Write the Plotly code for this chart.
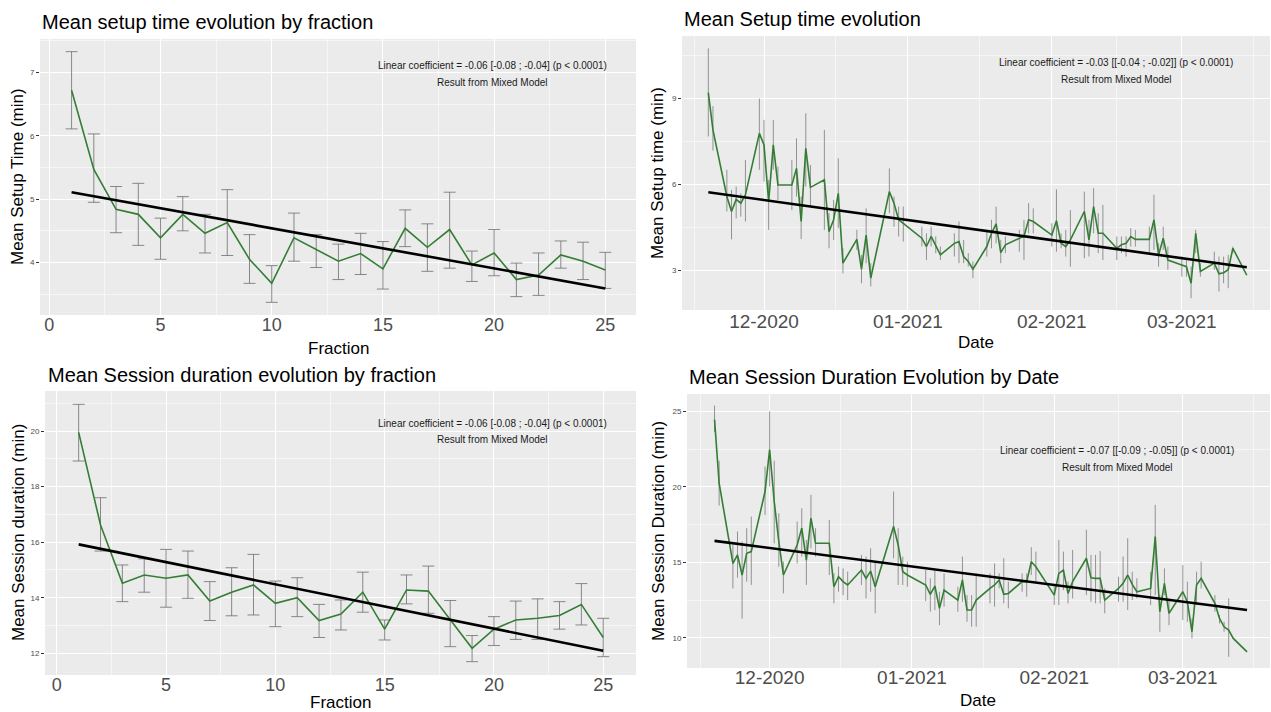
import plotly.graph_objects as go

W, H = 1271, 712
FONT = "Liberation Sans, Arial, sans-serif"

# ---------------- data ----------------
fraction = [1, 2, 3, 4, 5, 6, 7, 8, 9, 10, 11, 12, 13, 14, 15, 16, 17, 18, 19, 20, 21, 22, 23, 24, 25]

setup_frac_mean = [6.72, 5.47, 4.84, 4.76, 4.39, 4.76, 4.46, 4.63, 4.05, 3.67, 4.39, 4.20, 4.02,
                   4.14, 3.90, 4.54, 4.24, 4.52, 3.96, 4.15, 3.73, 3.80, 4.12, 4.02, 3.88]
setup_frac_upper = [7.33, 6.03, 5.20, 5.25, 4.70, 5.04, 4.76, 5.15, 4.44, 3.95, 4.78, 4.44, 4.29,
                    4.46, 4.33, 4.83, 4.61, 5.11, 4.18, 4.52, 3.99, 4.15, 4.34, 4.32, 4.16]
setup_frac_lower = [6.11, 4.95, 4.47, 4.27, 4.05, 4.50, 4.15, 4.11, 3.67, 3.37, 4.02, 3.92, 3.73,
                    3.81, 3.58, 4.25, 3.86, 3.91, 3.70, 3.79, 3.46, 3.48, 3.91, 3.73, 3.59]
setup_frac_trend = [5.11, 3.59]

session_frac_mean = [19.95, 16.62, 14.52, 14.82, 14.70, 14.82, 13.88, 14.20, 14.46, 13.80, 14.00, 13.18,
                     13.41, 14.20, 12.87, 14.28, 14.24, 13.20, 12.18, 12.87, 13.20, 13.26, 13.36, 13.76, 12.57]
session_frac_upper = [20.96, 17.60, 15.18, 15.40, 15.74, 15.68, 14.58, 15.08, 15.56, 14.60, 14.72, 13.76,
                      13.92, 14.92, 13.20, 14.82, 15.14, 13.90, 12.64, 13.32, 13.88, 13.96, 13.86, 14.51, 13.26]
session_frac_lower = [18.92, 15.68, 13.86, 14.20, 13.66, 13.98, 13.18, 13.35, 13.38, 12.96, 13.32, 12.57,
                      12.84, 13.48, 12.48, 13.78, 13.44, 12.24, 11.70, 12.28, 12.50, 12.50, 12.87, 13.02, 11.88]
session_frac_trend = [15.92, 12.09]

dates = [
    "2020-11-19", "2020-11-20", "2020-11-23", "2020-11-24", "2020-11-25", "2020-11-26", "2020-11-27",
    "2020-11-30", "2020-12-01", "2020-12-02", "2020-12-03", "2020-12-04", "2020-12-07", "2020-12-08",
    "2020-12-09", "2020-12-10", "2020-12-11", "2020-12-14", "2020-12-15", "2020-12-16", "2020-12-17",
    "2020-12-18", "2020-12-21", "2020-12-22", "2020-12-23", "2020-12-24", "2020-12-28", "2020-12-29",
    "2020-12-30", "2020-12-31", "2021-01-04", "2021-01-05", "2021-01-06", "2021-01-07", "2021-01-08",
    "2021-01-11", "2021-01-12", "2021-01-13", "2021-01-14", "2021-01-15", "2021-01-18", "2021-01-19",
    "2021-01-20", "2021-01-21", "2021-01-22", "2021-01-25", "2021-01-26", "2021-01-27", "2021-01-28",
    "2021-02-01", "2021-02-02", "2021-02-03", "2021-02-04", "2021-02-05", "2021-02-08", "2021-02-09",
    "2021-02-10", "2021-02-11", "2021-02-12", "2021-02-15", "2021-02-16", "2021-02-17", "2021-02-18",
    "2021-02-19", "2021-02-22", "2021-02-23", "2021-02-24", "2021-02-25", "2021-02-26", "2021-03-01",
    "2021-03-02", "2021-03-03", "2021-03-04", "2021-03-05", "2021-03-08", "2021-03-09", "2021-03-10",
    "2021-03-11", "2021-03-12", "2021-03-15",
]

setup_date_mean = [
    9.20, 7.90, 5.58, 5.06, 5.48, 5.35, 5.64, 7.78, 7.38, 5.40, 7.38, 5.98, 5.98, 6.56, 4.71, 7.26, 5.90,
    6.16, 4.36, 4.77, 5.69, 3.26, 4.09, 3.05, 4.24, 2.74, 5.75, 5.35, 4.77, 4.65, 4.13, 3.84, 4.19, 3.86,
    3.55, 3.95, 4.01, 3.49, 3.32, 3.05, 3.84, 4.30, 4.63, 3.63, 3.90, 4.13, 4.19, 4.77, 4.71, 4.24, 4.74,
    3.95, 3.84, 4.07, 5.06, 4.07, 5.23, 4.30, 4.30, 3.78, 3.90, 3.95, 4.19, 4.09, 4.09, 4.77, 3.55, 4.13,
    3.37, 3.20, 3.14, 2.56, 4.30, 2.97, 3.26, 2.89, 2.93, 3.03, 3.78, 2.84,
]
setup_date_upper = [
    10.74, 8.73, 6.51, 5.81, 5.93, 5.69, 6.85, 8.99, 8.25, 6.16, 8.25, 6.62, 6.85, 7.61, 5.58, 8.48, 6.68,
    7.90, 5.00, 5.46, 6.91, 3.78, 4.42, 3.55, 5.17, 3.26, 6.56, 5.58, 5.23, 5.23, 4.53, 4.30, 4.53, 4.19,
    3.84, 4.30, 4.71, 4.07, 3.61, 3.32, 4.42, 4.77, 5.23, 4.07, 4.19, 4.42, 4.77, 5.35, 5.17, 4.65, 5.83,
    4.30, 4.42, 5.11, 5.75, 4.77, 5.87, 5.00, 5.29, 4.19, 4.19, 4.19, 4.48, 4.42, 4.53, 5.64, 3.95, 4.53,
    3.84, 3.49, 3.37, 3.14, 4.42, 3.26, 3.66, 3.49, 3.49, 3.55, 3.84, 2.84,
]
setup_date_lower = [
    7.67, 7.18, 5.06, 4.09, 4.82, 4.88, 4.71, 6.51, 6.10, 4.42, 6.51, 5.46, 5.11, 5.58, 4.10, 5.93, 5.23,
    4.42, 3.78, 4.07, 4.48, 2.91, 3.72, 2.56, 3.26, 2.45, 5.00, 4.53, 4.19, 4.01, 3.84, 3.37, 3.84, 3.61,
    3.37, 3.49, 3.26, 3.26, 3.14, 2.74, 3.49, 3.78, 3.95, 3.26, 3.61, 3.66, 3.37, 4.30, 4.30, 3.84, 3.66,
    3.78, 3.49, 3.14, 3.43, 3.49, 4.30, 3.61, 3.37, 3.37, 3.61, 3.49, 3.84, 3.84, 3.61, 3.72, 3.14, 3.72,
    3.03, 2.79, 2.79, 2.04, 3.61, 2.79, 3.03, 2.27, 2.56, 2.39, 3.61, 2.84,
]
setup_date_trend = [5.73, 3.12]

session_date_mean = [
    24.45, 20.24, 14.93, 15.49, 14.16, 15.60, 15.71, 19.69, 22.46, 19.03, 16.37, 14.16, 16.15, 17.26, 15.15,
    17.92, 16.26, 16.26, 13.38, 14.05, 13.72, 13.50, 14.49, 13.94, 14.42, 13.38, 17.37, 16.15, 14.38, 14.16,
    13.50, 12.88, 13.43, 11.95, 13.16, 12.50, 13.83, 11.84, 11.84, 12.50, 13.27, 13.50, 13.83, 12.88, 12.94,
    13.72, 13.72, 15.04, 14.71, 12.83, 14.27, 14.49, 12.94, 13.72, 15.27, 13.98, 13.94, 13.94, 12.50, 13.27,
    13.61, 14.16, 13.54, 13.05, 13.27, 16.70, 11.73, 13.61, 11.62, 13.05, 12.39, 10.40, 13.50, 13.94, 12.28,
    11.28, 10.73, 10.51, 9.96, 9.07,
]
session_date_upper = [
    25.38, 21.73, 16.15, 17.04, 16.37, 17.26, 18.03, 21.35, 25.00, 21.73, 18.25, 15.04, 17.70, 18.58, 16.48,
    19.47, 17.26, 17.81, 14.27, 14.71, 14.60, 14.38, 15.49, 15.38, 15.93, 15.04, 19.69, 17.26, 15.38, 15.04,
    14.49, 13.94, 14.49, 13.05, 14.27, 13.38, 15.38, 12.83, 12.83, 14.27, 14.27, 14.93, 14.27, 15.27, 13.72,
    14.27, 14.27, 16.00, 15.71, 13.50, 16.48, 15.71, 13.72, 15.82, 17.15, 15.49, 15.49, 15.75, 13.27, 14.05,
    15.38, 16.59, 14.38, 13.94, 14.38, 18.81, 12.83, 14.60, 12.61, 14.82, 13.72, 11.28, 14.38, 15.04, 12.83,
    11.50, 11.06, 12.61, 9.96, 9.07,
]
session_date_lower = [
    23.63, 18.76, 13.27, 13.98, 11.28, 13.72, 13.50, 18.14, 20.02, 16.26, 14.71, 12.94, 14.93, 15.38, 13.50,
    15.93, 15.38, 14.16, 12.28, 13.05, 12.83, 12.50, 13.50, 12.61, 13.05, 11.62, 15.27, 13.50, 13.50, 13.38,
    12.43, 11.73, 11.84, 10.84, 12.06, 11.73, 12.39, 11.06, 10.73, 10.73, 12.28, 12.06, 13.27, 12.28, 11.95,
    13.05, 12.72, 14.16, 13.72, 12.17, 12.17, 13.16, 12.28, 12.61, 12.83, 12.39, 12.28, 12.28, 11.62, 12.39,
    12.39, 11.84, 12.50, 12.61, 12.17, 12.83, 10.40, 12.83, 10.84, 11.17, 11.06, 9.96, 12.17, 13.27, 11.73,
    10.95, 10.40, 8.74, 9.96, 9.07,
]
session_date_trend = [16.42, 11.84]

titles = ["Mean setup time evolution by fraction", "Mean Setup time evolution",
          "Mean Session duration evolution by fraction", "Mean Session Duration Evolution by Date"]
y_titles = ["Mean Setup Time (min)", "Mean Setup time (min)",
            "Mean Session duration (min)", "Mean Session Duration (min)"]
x_titles = ["Fraction", "Date", "Fraction", "Date"]
notes = ["Linear coefficient = -0.06 [-0.08 ; -0.04] (p < 0.0001)",
         "Linear coefficient = -0.03 [[-0.04 ; -0.02]] (p < 0.0001)",
         "Linear coefficient = -0.06 [-0.08 ; -0.04] (p < 0.0001)",
         "Linear coefficient = -0.07 [[-0.09 ; -0.05]] (p < 0.0001)"]
note2 = "Result from Mixed Model"

# ---------------- styling ----------------
GREEN = "rgb(52,125,52)"
ERR_COLOR = "rgba(110,110,110,0.8)"
PANEL_BG = "#EBEBEB"
TICK_COLOR = "#4D4D4D"


def px_x(p):
    return p / W


def px_y(p):
    return 1 - p / H


fig = go.Figure()

series = [
    ("x", "y", fraction, setup_frac_mean, setup_frac_upper, setup_frac_lower, setup_frac_trend, 6, 1.0),
    ("x2", "y2", dates, setup_date_mean, setup_date_upper, setup_date_lower, setup_date_trend, 0, 0.9),
    ("x3", "y3", fraction, session_frac_mean, session_frac_upper, session_frac_lower, session_frac_trend, 6, 1.0),
    ("x4", "y4", dates, session_date_mean, session_date_upper, session_date_lower, session_date_trend, 0, 0.9),
]

for xa, ya, xs, m, up, lo, tr, capw, ew in series:
    plus = [u - v for u, v in zip(up, m)]
    minus = [v - l for v, l in zip(m, lo)]
    fig.add_trace(go.Scatter(
        x=xs, y=m, xaxis=xa, yaxis=ya, mode="markers",
        marker=dict(size=1, color="rgba(0,0,0,0)"),
        error_y=dict(type="data", symmetric=False, array=plus, arrayminus=minus,
                     color=ERR_COLOR, thickness=ew, width=capw),
        showlegend=False, hoverinfo="skip"))
    fig.add_trace(go.Scatter(
        x=xs, y=m, xaxis=xa, yaxis=ya, mode="lines",
        line=dict(color=GREEN, width=1.6), showlegend=False))
    fig.add_trace(go.Scatter(
        x=[xs[0], xs[-1]], y=tr, xaxis=xa, yaxis=ya, mode="lines",
        line=dict(color="black", width=2.6), showlegend=False))

ycommon = dict(showgrid=True, gridcolor="white", gridwidth=1.2, zeroline=False,
               showline=False, ticks="outside", ticklen=3, tickcolor="#333333",
               tickwidth=1)
xcommon = dict(showgrid=True, gridcolor="white", gridwidth=1.2, zeroline=False,
               showline=False, ticks="")

layout = dict(
    width=W, height=H, margin=dict(l=0, r=0, t=0, b=0),
    paper_bgcolor="white", plot_bgcolor=PANEL_BG,
    font=dict(family=FONT, color="black"),
)

MINOR_GRID = "rgba(255,255,255,0.55)"
num_x_minor = dict(showgrid=True, gridcolor=MINOR_GRID, gridwidth=0.6,
                   tick0=0, dtick=2.5, ticks="")
date_minor = dict(showgrid=True, gridcolor=MINOR_GRID, gridwidth=0.6,
                  tickmode="array", ticks="",
                  tickvals=["2020-11-16", "2020-12-16 12:00", "2021-01-16 12:00",
                            "2021-02-15", "2021-03-16 12:00"])

# TL
layout["xaxis"] = dict(xcommon, domain=[px_x(40), px_x(636)], anchor="free", position=px_y(312),
                       range=[-0.42, 26.38],
                       tickmode="linear", tick0=0, dtick=5, minor=num_x_minor,
                       tickfont=dict(size=18, color=TICK_COLOR))
layout["yaxis"] = dict(ycommon, domain=[px_y(315), px_y(39)], anchor="x", range=[3.17, 7.53],
                       tickmode="linear", tick0=0, dtick=1,
                       minor=dict(showgrid=True, gridcolor=MINOR_GRID, gridwidth=0.6,
                                  tick0=0.5, dtick=1, ticks=""),
                       tickfont=dict(size=8, color=TICK_COLOR))
# TR
layout["xaxis2"] = dict(xcommon, domain=[px_x(682), px_x(1270)], anchor="free", position=px_y(308),
                        type="date", range=["2020-11-13 08:00", "2021-03-20"],
                        tickmode="linear", tick0="2020-12-01", dtick="M1", tickformat="%m-%Y",
                        minor=date_minor, tickfont=dict(size=19, color=TICK_COLOR))
layout["yaxis2"] = dict(ycommon, domain=[px_y(310), px_y(36)], anchor="x2", range=[1.63, 11.17],
                        tickmode="linear", tick0=0, dtick=3,
                        minor=dict(showgrid=True, gridcolor=MINOR_GRID, gridwidth=0.6,
                                   tick0=1.5, dtick=3, ticks=""),
                        tickfont=dict(size=8, color=TICK_COLOR))
# BL
layout["xaxis3"] = dict(xcommon, domain=[px_x(45), px_x(636)], anchor="free", position=px_y(672),
                        range=[-0.54, 26.5],
                        tickmode="linear", tick0=0, dtick=5, minor=num_x_minor,
                        tickfont=dict(size=18, color=TICK_COLOR))
layout["yaxis3"] = dict(ycommon, domain=[px_y(675), px_y(391)], anchor="x3", range=[11.22, 21.44],
                        tickmode="linear", tick0=0, dtick=2,
                        minor=dict(showgrid=True, gridcolor=MINOR_GRID, gridwidth=0.6,
                                   tick0=1, dtick=2, ticks=""),
                        tickfont=dict(size=8, color=TICK_COLOR))
# BR
layout["xaxis4"] = dict(xcommon, domain=[px_x(687), px_x(1270)], anchor="free", position=px_y(664),
                        type="date", range=["2020-11-13", "2021-03-20"],
                        tickmode="linear", tick0="2020-12-01", dtick="M1", tickformat="%m-%Y",
                        minor=date_minor, tickfont=dict(size=19, color=TICK_COLOR))
layout["yaxis4"] = dict(ycommon, domain=[px_y(668), px_y(394)], anchor="x4", range=[8.0, 26.15],
                        tickmode="linear", tick0=0, dtick=5,
                        minor=dict(showgrid=True, gridcolor=MINOR_GRID, gridwidth=0.6,
                                   tick0=2.5, dtick=5, ticks=""),
                        tickfont=dict(size=8, color=TICK_COLOR))

fig.update_layout(**layout)

ann = []
title_pos = [(40, 22), (682, 19), (46, 375), (687, 377)]
for t, (x0, y0) in zip(titles, title_pos):
    ann.append(dict(text=t, x=px_x(x0), y=px_y(y0), xref="paper", yref="paper",
                    xanchor="left", yanchor="middle", showarrow=False,
                    font=dict(size=20, color="black", family=FONT)))
ytitle_pos = [(18, 177), (658, 173), (18, 533), (658, 531)]
for t, (x0, y0) in zip(y_titles, ytitle_pos):
    ann.append(dict(text=t, x=px_x(x0), y=px_y(y0), xref="paper", yref="paper",
                    xanchor="center", yanchor="middle", showarrow=False, textangle=-90,
                    font=dict(size=17, color="black", family=FONT)))
xtitle_pos = [(338, 348), (976, 343), (340, 702), (978, 700)]
for t, (x0, y0) in zip(x_titles, xtitle_pos):
    ann.append(dict(text=t, x=px_x(x0), y=px_y(y0), xref="paper", yref="paper",
                    xanchor="center", yanchor="middle", showarrow=False,
                    font=dict(size=17, color="black", family=FONT)))
note_pos = [(492, 65, 82), (1116, 62, 79), (492, 423, 440), (1117, 450, 467)]
for t, (x0, y1, y2) in zip(notes, note_pos):
    ann.append(dict(text=t, x=px_x(x0), y=px_y(y1), xref="paper", yref="paper",
                    xanchor="center", yanchor="middle", showarrow=False,
                    font=dict(size=10, color="#1a1a1a", family=FONT)))
    ann.append(dict(text=note2, x=px_x(x0), y=px_y(y2), xref="paper", yref="paper",
                    xanchor="center", yanchor="middle", showarrow=False,
                    font=dict(size=10, color="#1a1a1a", family=FONT)))

fig.update_layout(annotations=ann)
fig.write_html("out.html", config={"displayModeBar": False},
               post_script="document.body.style.margin='0';")
